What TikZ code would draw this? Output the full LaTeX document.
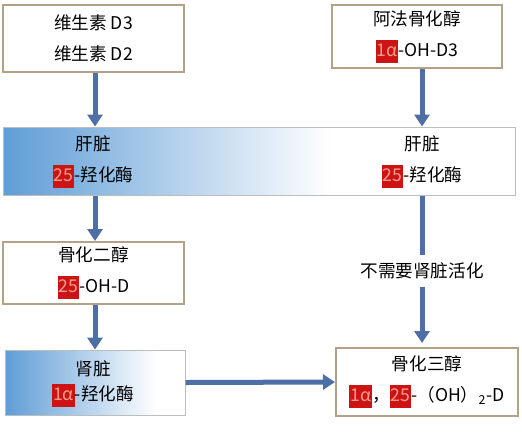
\documentclass[tikz,border=0pt]{standalone}
\usepackage{fontspec}
\setmainfont{Noto Sans CJK SC}
\usetikzlibrary{arrows.meta, positioning}
\definecolor{boxtan}{HTML}{B3A287}
\definecolor{arrowblue}{HTML}{4E6FA5}
\definecolor{organblue}{HTML}{5F9DD6}
\definecolor{bandgray}{HTML}{BDBDBD}
\definecolor{hlred}{HTML}{CC1414}
\definecolor{hlpink}{HTML}{FF9C8C}
\newcommand{\hl}[1]{{\setlength{\fboxsep}{0.5pt}\colorbox{hlred}{\rule[-2.8pt]{0pt}{10.5pt}\textcolor{hlpink}{#1}}}}
% shadings: stops between 25bp and 75bp cover the node
\pgfdeclarehorizontalshading{liverfade}{100bp}{color(0bp)=(organblue); color(25bp)=(organblue); color(57bp)=(white); color(100bp)=(white)}
\pgfdeclarehorizontalshading{kidneyfade}{100bp}{color(0bp)=(organblue); color(25bp)=(organblue); color(67bp)=(white); color(100bp)=(white)}

\begin{document}
\begin{tikzpicture}[x=0.5pt, y=-0.5pt, font=\fontsize{8.8}{15.5}\selectfont,
    tanbox/.style={draw=boxtan, line width=1pt, fill=white, inner sep=0pt, align=center},
    organ/.style={draw=bandgray, line width=0.5pt, inner sep=0pt},
    label/.style={inner sep=0pt, align=center},
    flow/.style={draw=arrowblue, line width=2.5pt, -{Triangle[width=7.5pt, length=6pt]}}]
    \useasboundingbox (0,0) rectangle (522,444);
    \coordinate (lcol) at (95,0);
    \coordinate (rcol) at (422,0);

    % sources
    \node[tanbox, minimum width=90.5pt, minimum height=33.5pt] (vitd) at (93.5,38.5) {维生素 D3\\维生素 D2};
    \node[tanbox, minimum width=85pt, minimum height=31.5pt] (alfa) at (417,36.5) {阿法骨化醇\\\hl{1α}-OH-D3};

    % liver
    \node[organ, shading=liverfade, minimum width=256pt, minimum height=34pt] (liver) at (259,161) {};
    \node[label] (liverL) at (93,162) {肝脏\\\hl{25}-羟化酶};
    \node[label] (liverR) at (422,162) {肝脏\\\hl{25}-羟化酶};

    \node[tanbox, minimum width=90.5pt, minimum height=31pt] (calcd) at (93.5,273) {骨化二醇\\\hl{25}-OH-D};

    % kidney
    \node[organ, shading=kidneyfade, minimum width=90pt, minimum height=32.5pt] (kidney) at (95,382.5) {};
    \node[label, font=\fontsize{8.8}{12.5}\selectfont] (kidneyT) at (93,384) {肾脏\\\hl{1α}-羟化酶};

    \node[tanbox, minimum width=91pt, minimum height=34pt] (calct) at (427,382) {骨化三醇\\\hl{1α}，\hl{25}-（OH）\textsubscript{2}-D};

    \draw[flow] (vitd.south -| lcol) -- (liver.north -| lcol);
    \draw[flow] (alfa.south -| rcol) -- (liver.north -| rcol);
    \draw[flow] (liver.south -| lcol) -- (calcd.north -| lcol);
    \draw[flow] (calcd.south -| lcol) -- (kidney.north -| lcol);
    \draw[flow] (kidney.east) -- (calct.west);
    \draw[flow, shorten >=2pt] (liver.south -| rcol) -- node[fill=white, inner xsep=1pt, inner ysep=4pt] (nokidney) {不需要肾脏活化} (calct.north -| rcol);
\end{tikzpicture}
\end{document}
